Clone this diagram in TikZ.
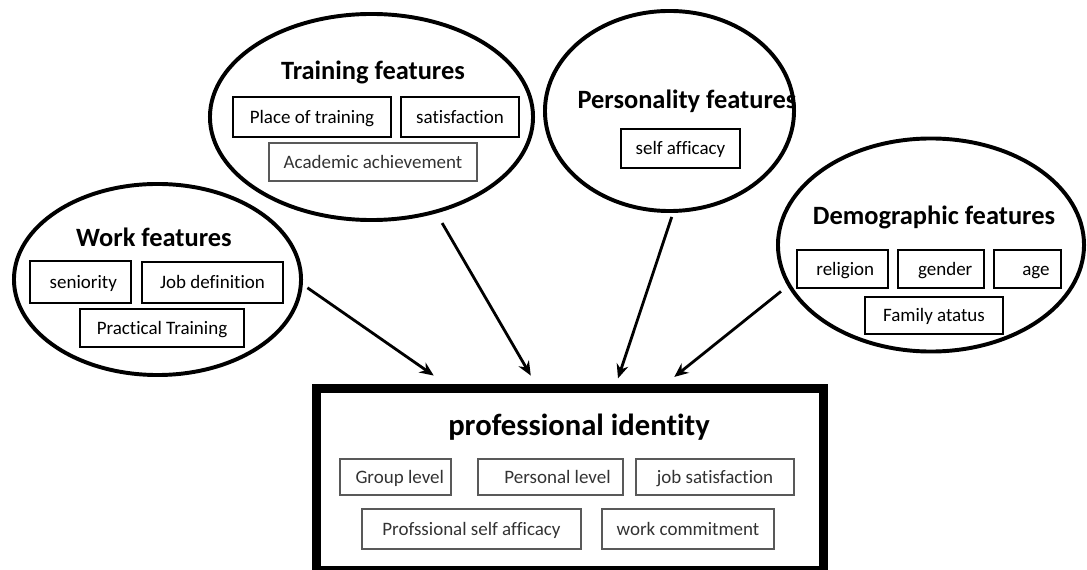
\documentclass[tikz,border=0pt]{standalone}
\usepackage{fontspec}
\setmainfont{Carlito}[Ligatures={NoCommon}]
\usetikzlibrary{shapes.geometric,arrows.meta,calc}

\begin{document}
\begin{tikzpicture}[x=0.025cm,y=-0.025cm,
    group/.style={ellipse,draw,line width=2.8pt,inner sep=0pt},
    grouptitle/.style={font=\fontsize{18.8}{22}\selectfont\bfseries},
    item/.style={draw,line width=0.9pt,inner sep=0pt,text height=10.5pt,text depth=1.5pt,
        font=\fontsize{13.5}{16}\selectfont},
    greyitem/.style={item,draw=black!65,text=black!80},
    arr/.style={-{Stealth[length=10pt,width=8.5pt]},line width=2pt}]
    \useasboundingbox (0,0) rectangle (1087,570);

    % work features
    \node[group,minimum width=7.175cm,minimum height=4.775cm] (work) at (157.5,279.5) {};
    \node[grouptitle] (worktitle) at (154,237) {Work features};
    \node[item,minimum width=2.525cm,minimum height=1.05cm] (seniority) at (80.5,282) {\hspace{4pt}seniority};
    \node[item,minimum width=3.525cm,minimum height=1.025cm] (jobdef) at (212.5,282.5) {Job definition};
    \node[item,minimum width=4.1cm,minimum height=0.95cm] (practical) at (162,328) {Practical Training};

    % training features
    \node[group,minimum width=8.075cm,minimum height=5.15cm] (training) at (371.5,117) {};
    \node[grouptitle] (trainingtitle) at (373,72) {Training features};
    \node[item,minimum width=3.95cm,minimum height=1cm] (place) at (312,117) {Place of training};
    \node[item,minimum width=2.95cm,minimum height=1cm] (satisf) at (460,117) {satisfaction};
    \node[greyitem,minimum width=5.2cm,minimum height=0.95cm] (academic) at (373,162) {Academic achievement};

    % personality features
    \node[group,minimum width=6.225cm,minimum height=5cm] (personality) at (669.5,111) {};
    \node[grouptitle] (personalitytitle) at (687,101) {Personality features};
    \node[item,minimum width=2.975cm,minimum height=0.975cm] (selfaff) at (680.5,148.5) {self afficacy};

    % demographic features
    \node[group,minimum width=7.65cm,minimum height=5.325cm] (demo) at (931,245) {};
    \node[grouptitle] (demotitle) at (934,217) {Demographic features};
    \node[item,minimum width=2.275cm,minimum height=0.95cm] (religion) at (842.5,269) {\hspace{4pt}religion};
    \node[item,minimum width=2.15cm,minimum height=0.95cm] (gender) at (941,269) {\hspace{6pt}gender};
    \node[item,minimum width=1.675cm,minimum height=0.95cm] (age) at (1027.5,269) {\hspace{12pt}age};
    \node[item,minimum width=3.45cm,minimum height=0.925cm] (family) at (934,315.5) {Family atatus};

    % professional identity
    \node[draw,line width=6.4pt,minimum width=12.675cm,minimum height=4.55cm] (pi) at (570,479.5) {};
    \node[font=\fontsize{21.8}{26}\selectfont\bfseries] (pititle) at (579,427) {professional identity};
    \node[greyitem,minimum width=2.775cm,minimum height=0.9cm] (grouplvl) at (395.5,477) {\hspace{6pt}Group level};
    \node[greyitem,minimum width=3.625cm,minimum height=0.9cm] (personallvl) at (550.5,477) {\hspace{10pt}Personal level};
    \node[greyitem,minimum width=3.95cm,minimum height=0.9cm] (jobsat) at (715,477) {job satisfaction};
    \node[greyitem,minimum width=5.475cm,minimum height=1cm] (profself) at (471.5,529) {Profssional self afficacy};
    \node[greyitem,minimum width=4.3cm,minimum height=1cm] (commit) at (688,529) {work commitment};

    % arrows
    \draw[arr,shorten <=4pt] (work.-2.5) -- ($(pi.north west)!.236!(pi.north east)+(0,6pt)$);
    \draw[arr,shorten <=8pt] (training.-56.4) -- ($(pi.north west)!.424!(pi.north east)+(0,6pt)$);
    \draw[arr,shorten <=3pt] (personality.-88) -- ($(pi.north west)!.593!(pi.north east)+(0,4pt)$);
    \draw[arr,shorten <=6pt] (demo.196) -- ($(pi.north west)!.702!(pi.north east)+(0,5pt)$);
\end{tikzpicture}
\end{document}
